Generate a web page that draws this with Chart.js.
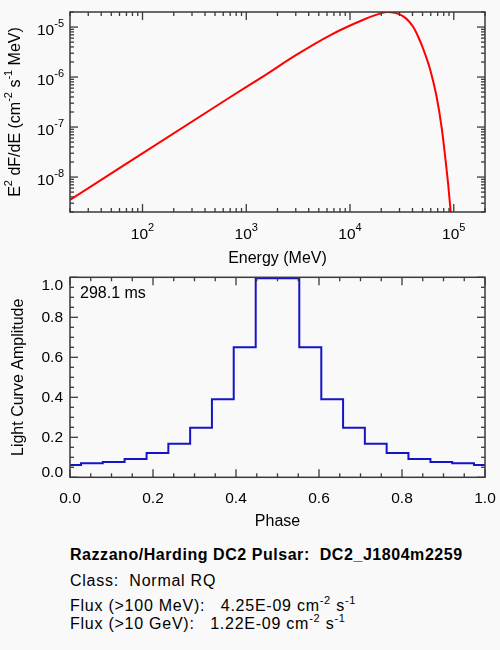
<!DOCTYPE html>
<html><head><meta charset="utf-8">
<script src="https://cdn.jsdelivr.net/npm/chart.js@4.4.1/dist/chart.umd.min.js"></script>
<style>
html,body{margin:0;padding:0;background:#f9f9f9;width:500px;height:650px;overflow:hidden;}
canvas{position:absolute;left:0;}
#c1{top:0}
#c2{top:270px}
.info{position:absolute;left:70px;font-family:"Liberation Sans",Arial,sans-serif;font-size:16px;line-height:16px;color:#000;white-space:pre;letter-spacing:0.75px}
.sup{position:relative;top:-6.5px;font-size:11px;}
</style></head><body>
<canvas id="c1" width="500" height="270"></canvas>
<canvas id="c2" width="500" height="270"></canvas>
<div class="info" style="top:547px;font-weight:bold;letter-spacing:0.55px">Razzano/Harding DC2 Pulsar:  DC2_J1804m2259</div>
<div class="info" style="top:573px">Class:  Normal RQ</div>
<div class="info" style="top:597.5px">Flux (&gt;100 MeV):   4.25E-09 cm<span class="sup">-2</span> s<span class="sup">-1</span></div>
<div class="info" style="top:615.5px">Flux (&gt;10 GeV):   1.22E-09 cm<span class="sup">-2</span> s<span class="sup">-1</span></div>
<script>
// ---- data ----
const energyMeV = [20, 697, 1459, 3062, 6412, 13430, 18100, 22600, 32620, 40740, 45500, 50820, 59020, 68420, 76530, 82270, 88470, 93330, 96150];
const spectrumE2dFdE = [3.48e-9, 3.94e-7, 1.035e-6, 2.80e-6, 6.84e-6, 1.40e-5, 1.77e-5, 1.99e-5, 1.64e-5, 1.00e-5, 6.32e-6, 3.64e-6, 1.45e-6, 3.99e-7, 9.57e-8, 2.76e-8, 6.93e-9, 2.03e-9, 1.10e-9];
const phase = [0.000, 0.053, 0.105, 0.158, 0.211, 0.263, 0.316, 0.368, 0.421, 0.474, 0.526, 0.579, 0.632, 0.684, 0.737, 0.789, 0.842, 0.895, 0.947, 1.000];
const amplitude = [0.062, 0.070, 0.077, 0.092, 0.121, 0.168, 0.248, 0.390, 0.650, 0.995, 0.995, 0.650, 0.390, 0.248, 0.168, 0.121, 0.092, 0.077, 0.070, 0.062];
const energyTickValues = [1e2, 1e3, 1e4, 1e5];
const energyTickExps = ['2', '3', '4', '5'];
const fluxTickValues = [1e-8, 1e-7, 1e-6, 1e-5];
const fluxTickExps = ['-8', '-7', '-6', '-5'];
const periodLabel = '298.1 ms';

const FAM = '"Liberation Sans", Arial, sans-serif';
const AXIS = '#3a3a3a';

function seg(ctx, x1, y1, x2, y2) { ctx.beginPath(); ctx.moveTo(x1, y1); ctx.lineTo(x2, y2); ctx.stroke(); }

const frame1 = {
  id: 'frame1',
  afterDraw(chart) {
    const { ctx, chartArea: a, scales: { x, y } } = chart;
    ctx.save();
    ctx.strokeStyle = AXIS; ctx.lineWidth = 1.3;
    for (let d = 1; d <= 5; d++) for (let m = 1; m <= 9; m++) {
      const v = m * Math.pow(10, d);
      if (v < x.min * 0.999 || v > x.max * 1.001) continue;
      const px = x.getPixelForValue(v), L = m === 1 ? 8 : 4;
      seg(ctx, px, a.bottom, px, a.bottom - L); seg(ctx, px, a.top, px, a.top + L);
    }
    for (let d = -9; d <= -5; d++) for (let m = 1; m <= 9; m++) {
      const v = m * Math.pow(10, d);
      if (v < y.min * 0.999 || v > y.max * 1.001) continue;
      const py = y.getPixelForValue(v), L = m === 1 ? 8 : 4;
      seg(ctx, a.left, py, a.left + L, py); seg(ctx, a.right, py, a.right - L, py);
    }
    ctx.lineWidth = 1.5;
    ctx.strokeRect(a.left, a.top, a.right - a.left, a.bottom - a.top);
    ctx.fillStyle = '#000'; ctx.textBaseline = 'alphabetic'; ctx.textAlign = 'left';
    const big = '15.5px ' + FAM, small = '11px ' + FAM;
    energyTickValues.forEach((v, i) => {
      const px = x.getPixelForValue(v);
      ctx.font = big; const w1 = ctx.measureText('10').width;
      ctx.font = small; const w2 = ctx.measureText(energyTickExps[i]).width;
      const s = px - (w1 + w2) / 2;
      ctx.font = big; ctx.fillText('10', s, a.bottom + 27.3);
      ctx.font = small; ctx.fillText(energyTickExps[i], s + w1, a.bottom + 19);
    });
    fluxTickValues.forEach((v, i) => {
      const py = y.getPixelForValue(v);
      ctx.font = big; const w1 = ctx.measureText('10').width;
      ctx.font = small; const w2 = ctx.measureText(fluxTickExps[i]).width;
      const s = a.left - 6 - (w1 + w2);
      ctx.font = big; ctx.fillText('10', s, py + 7.6);
      ctx.font = small; ctx.fillText(fluxTickExps[i], s + w1, py);
    });
    ctx.font = '16px ' + FAM; ctx.textAlign = 'center';
    ctx.fillText('Energy (MeV)', (a.left + a.right) / 2, a.bottom + 51.3);
    const parts = [['E', 0], ['2', 1], [' dF/dE (cm', 0], ['-2', 1], [' s', 0], ['-1', 1], [' MeV)', 0]];
    let total = 0;
    parts.forEach(p => { ctx.font = (p[1] ? '11px ' : '16px ') + FAM; p.push(ctx.measureText(p[0]).width); total += p[2]; });
    ctx.translate(20, (a.top + a.bottom) / 2); ctx.rotate(-Math.PI / 2);
    ctx.textAlign = 'left';
    let cx = -total / 2;
    parts.forEach(p => {
      ctx.font = (p[1] ? '11px ' : '16px ') + FAM;
      ctx.fillText(p[0], cx, p[1] ? -8.3 : 0);
      cx += p[2];
    });
    ctx.restore();
  }
};

new Chart(document.getElementById('c1'), {
  type: 'line',
  data: { datasets: [{
    data: energyMeV.map((e, i) => ({ x: e, y: spectrumE2dFdE[i] })),
    borderColor: '#ff0000', borderWidth: 2, pointRadius: 0, fill: false,
    cubicInterpolationMode: 'monotone'
  }] },
  options: {
    responsive: false, animation: false, events: [],
    layout: { padding: { left: 70, right: 15, top: 12, bottom: 58 } },
    plugins: { legend: { display: false }, tooltip: { enabled: false } },
    scales: {
      x: { type: 'logarithmic', min: 20, max: 2e5, display: false },
      y: { type: 'logarithmic', min: 2e-9, max: 2e-5, display: false }
    }
  },
  plugins: [frame1]
});

const frame2 = {
  id: 'frame2',
  afterDraw(chart) {
    const { ctx, chartArea: a, scales: { x, y } } = chart;
    ctx.save();
    ctx.strokeStyle = AXIS; ctx.lineWidth = 1.3;
    for (let i = 0; i <= 20; i++) {
      const v = i * 0.05, L = i % 4 === 0 ? 8 : 4;
      const px = x.getPixelForValue(v), py = y.getPixelForValue(v);
      seg(ctx, px, a.bottom, px, a.bottom - L); seg(ctx, px, a.top, px, a.top + L);
      seg(ctx, a.left, py, a.left + L, py); seg(ctx, a.right, py, a.right - L, py);
    }
    ctx.lineWidth = 1.5;
    ctx.strokeRect(a.left, a.top, a.right - a.left, a.bottom - a.top);
    ctx.fillStyle = '#000'; ctx.font = '16px ' + FAM; ctx.textAlign = 'left'; ctx.textBaseline = 'alphabetic';
    ctx.fillText(periodLabel, a.left + 10, a.top + 21);
    ctx.restore();
  }
};

function yEndFont(c) {
  const v = c.tick ? c.tick.value : 0.5;
  let lh = 1.2;
  if (Math.abs(v) < 1e-9) lh = '10px';
  else if (Math.abs(v - 1) < 1e-9) lh = '16.8px';
  return { family: FAM, size: 15.5, lineHeight: lh };
}

new Chart(document.getElementById('c2'), {
  type: 'line',
  data: { datasets: [{
    data: phase.map((p, i) => ({ x: p, y: amplitude[i] })),
    borderColor: '#1515c8', borderWidth: 2, pointRadius: 0, fill: false, stepped: 'middle'
  }] },
  options: {
    responsive: false, animation: false, events: [],
    layout: { padding: { left: 0, right: 15, top: 7.3, bottom: 0 } },
    plugins: { legend: { display: false }, tooltip: { enabled: false } },
    scales: {
      x: {
        type: 'linear', min: 0, max: 1,
        grid: { display: false, drawTicks: false, tickLength: 0 }, border: { display: false },
        ticks: { stepSize: 0.2, padding: 12.5, color: '#000', font: { family: FAM, size: 15.5 }, maxRotation: 0, autoSkip: false, callback: v => Number(v).toFixed(1) },
        title: { display: true, text: 'Phase', color: '#000', font: { family: FAM, size: 16 }, padding: { top: 0, bottom: 8.7 } },
        afterFit: s => { s.height = 62.7; s.paddingLeft = 0; s.paddingRight = 0; }
      },
      y: {
        type: 'linear', min: 0, max: 1,
        grid: { display: false, drawTicks: false, tickLength: 0 }, border: { display: false },
        ticks: {
          stepSize: 0.2, padding: 7, color: '#000', font: yEndFont,
          callback: v => {
            const s = Number(v).toFixed(1);
            if (Math.abs(v) < 1e-9) return [s, ''];
            if (Math.abs(v - 1) < 1e-9) return ['', s];
            return s;
          }
        },
        title: { display: true, text: 'Light Curve Amplitude', color: '#000', font: { family: FAM, size: 16 }, padding: { top: 8.8, bottom: 0 } },
        afterFit: s => { s.width = 70; s.paddingTop = 0; s.paddingBottom = 0; }
      }
    }
  },
  plugins: [frame2]
});
</script>
</body></html>
